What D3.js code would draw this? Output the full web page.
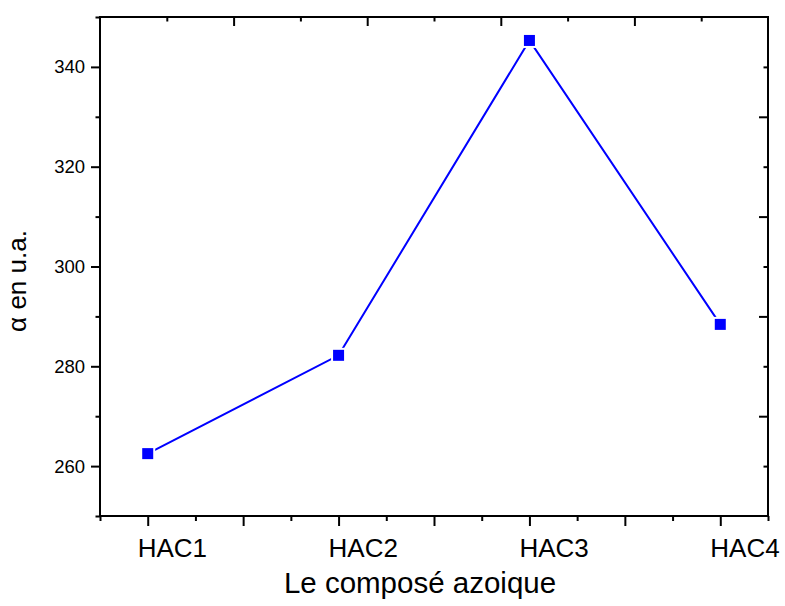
<!DOCTYPE html>
<html><head><meta charset="utf-8">
<script src="https://cdn.jsdelivr.net/npm/d3@7"></script>
<style>
html,body{margin:0;padding:0;background:#fff;}
svg{display:block;font-family:"Liberation Sans",Arial,sans-serif;}
</style></head>
<body>
<svg id="c" width="785" height="606"></svg>
<script>
const categories = ["HAC1", "HAC2", "HAC3", "HAC4"];
const values = [262.5, 282.2, 345.3, 288.4];
const yMajorTicks = [260, 280, 300, 320, 340];
const yMinorTicks = [250, 270, 290, 310, 330, 350];
const xMajorTicks = [1, 1.5, 2, 2.5, 3, 3.5, 4];
const xMinorTicks = [0.75, 1.25, 1.75, 2.25, 2.75, 3.25, 3.75, 4.25];
const auxMajor = [2, 4, 6, 8];
const auxMinor = [1, 3, 5, 7, 9];
const xTitle = "Le composé azoique";
const yTitle = "α en u.a.";

const L = 100, R = 768, T = 17, B = 516;
const svg = d3.select("#c");
const x = d3.scaleLinear().domain([0.75, 4.25]).range([L, R]);
const y = d3.scaleLinear().domain([250, 350]).range([B, T]);
const xa = d3.scaleLinear().domain([0, 10]).range([L, R]);
const ya = d3.scaleLinear().domain([0, 10]).range([B, T]);

function styleAxis(g){
  g.select(".domain").remove();
  g.selectAll(".tick line").attr("stroke", "#000").attr("stroke-width", 2);
}

// bottom axis
svg.append("g").attr("transform", `translate(0,${B})`)
  .call(d3.axisBottom(x).tickValues(xMajorTicks).tickSize(10).tickFormat(""))
  .call(styleAxis);
svg.append("g").attr("transform", `translate(0,${B})`)
  .call(d3.axisBottom(x).tickValues(xMinorTicks).tickSize(5).tickFormat(""))
  .call(styleAxis);
// category labels
svg.append("g").selectAll("text").data(categories).join("text")
  .attr("x", (d, i) => x(i + 1) - 10)
  .attr("y", 557)
  .attr("text-anchor", "start")
  .attr("font-size", 26)
  .attr("fill", "#000")
  .text(d => d);

// left axis
svg.append("g").attr("transform", `translate(${L},0)`)
  .call(d3.axisLeft(y).tickValues(yMajorTicks).tickSize(9).tickPadding(6).tickFormat(d3.format("d")))
  .call(styleAxis)
  .call(g => g.selectAll("text").attr("font-size", 18.5).attr("fill", "#000")
    .attr("font-family", "Liberation Sans, Arial, sans-serif"));
svg.append("g").attr("transform", `translate(${L},0)`)
  .call(d3.axisLeft(y).tickValues(yMinorTicks).tickSize(4.5).tickFormat(""))
  .call(styleAxis);

// top axis (inward)
svg.append("g").attr("transform", `translate(0,${T})`)
  .call(d3.axisTop(xa).tickValues(auxMajor).tickSize(-9).tickFormat(""))
  .call(styleAxis);
svg.append("g").attr("transform", `translate(0,${T})`)
  .call(d3.axisTop(xa).tickValues(auxMinor).tickSize(-4.5).tickFormat(""))
  .call(styleAxis);
// right axis (inward)
svg.append("g").attr("transform", `translate(${R},0)`)
  .call(d3.axisRight(ya).tickValues(auxMajor).tickSize(-9).tickFormat(""))
  .call(styleAxis);
svg.append("g").attr("transform", `translate(${R},0)`)
  .call(d3.axisRight(ya).tickValues(auxMinor).tickSize(-4.5).tickFormat(""))
  .call(styleAxis);

// frame
svg.append("rect").attr("x", L).attr("y", T).attr("width", R - L).attr("height", B - T)
  .attr("fill", "none").attr("stroke", "#000").attr("stroke-width", 2);

// data line
const pts = values.map((v, i) => [x(i + 1), y(v)]);
svg.append("path").datum(pts)
  .attr("d", d3.line())
  .attr("fill", "none").attr("stroke", "#0000ff").attr("stroke-width", 2);
// gaps around markers
svg.append("g").selectAll("rect").data(pts).join("rect")
  .attr("x", d => d[0] - 7.5).attr("y", d => d[1] - 7.5)
  .attr("width", 15).attr("height", 15).attr("fill", "#fff");
svg.append("g").selectAll("rect").data(pts).join("rect")
  .attr("x", d => d[0] - 5.5).attr("y", d => d[1] - 5.5)
  .attr("width", 11).attr("height", 11).attr("fill", "#0000ff");

// titles
svg.append("text").attr("x", 420).attr("y", 593).attr("text-anchor", "middle")
  .attr("font-size", 29.5).attr("fill", "#000").text(xTitle);
svg.append("text").attr("transform", `translate(26,281) rotate(-90)`)
  .attr("text-anchor", "middle").attr("font-size", 26).attr("fill", "#000").text(yTitle);
</script>
</body></html>
